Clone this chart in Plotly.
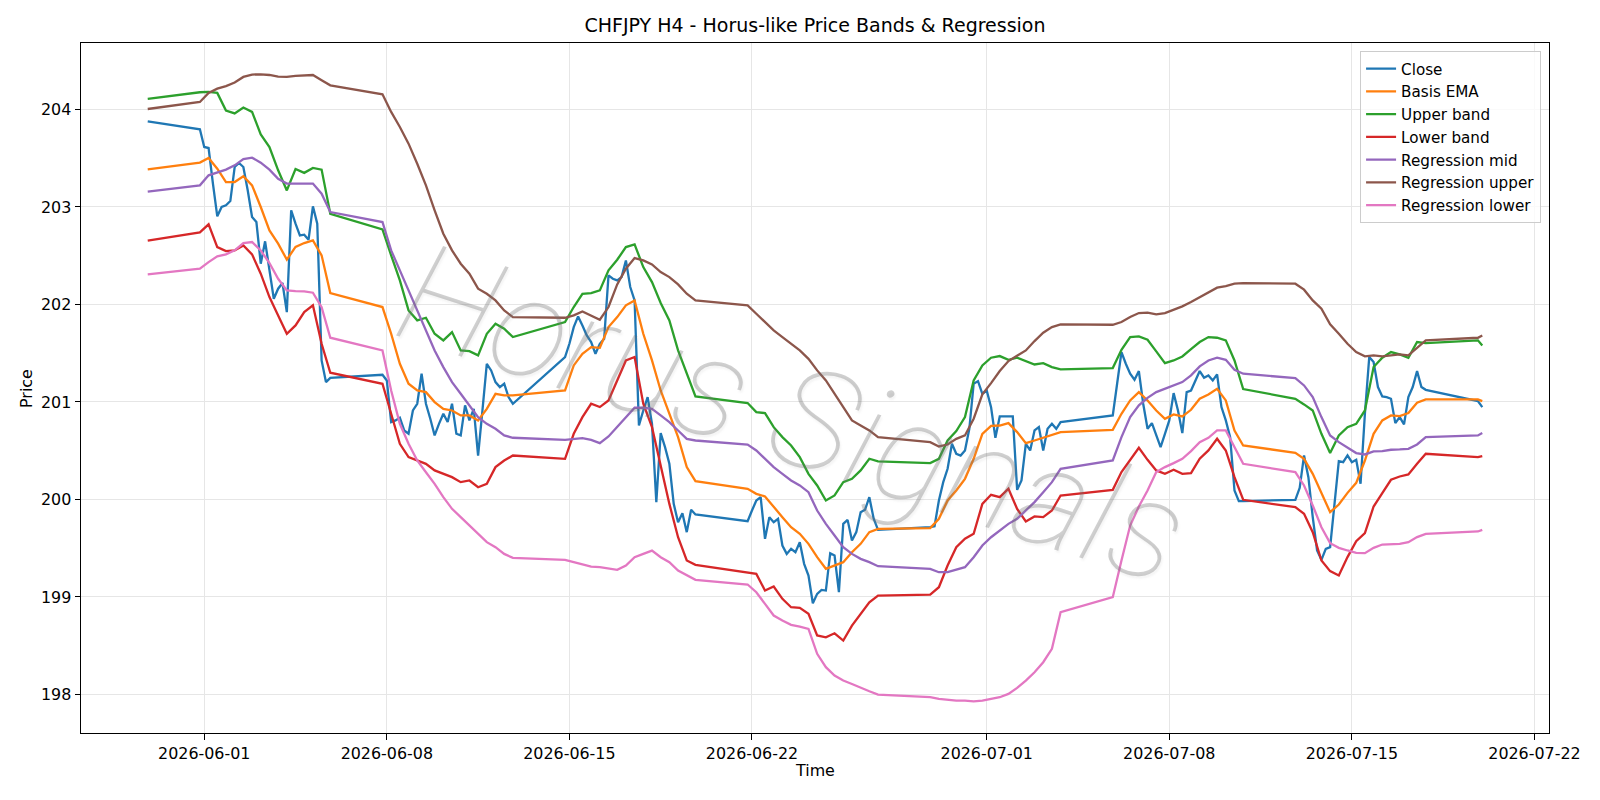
import pandas as pd
import plotly.graph_objects as go

# ---------------- time grids (H4 bars, weekend gaps) ----------------
def bar_times(step_hours):
    ts = [pd.Timestamp("2026-05-29 20:00")]
    for k in range(7):
        start = pd.Timestamp("2026-05-31 20:00") + pd.Timedelta(days=7 * k)
        n = 120 // step_hours + 1
        ts += [start + pd.Timedelta(hours=step_hours * i) for i in range(n)]
    ts += [pd.Timestamp("2026-07-19 20:00"), pd.Timestamp("2026-07-20 00:00")]
    return ts

t_close = bar_times(4)
t_band = bar_times(8)

# ---------------- series values ----------------
close = [
    203.879,
    203.797, 203.616, 203.605, 203.239, 202.904, 203.0, 203.017, 203.061, 203.41, 203.451, 203.41,
    203.171, 202.897, 202.846, 202.418, 202.648, 202.35, 202.059, 202.162, 202.22, 201.922, 202.966,
    202.829, 202.709, 202.716, 202.665, 203.007, 202.829, 201.426, 201.204, 201.248,
    201.279, 201.221, 200.794, 200.811, 200.838, 200.708, 200.674, 200.913, 200.982, 201.29, 200.982,
    200.828, 200.657, 200.776, 200.879, 200.794, 200.982, 200.674, 200.657, 200.965, 200.811, 200.93,
    200.451, 200.913, 201.392, 201.324, 201.204, 201.153, 201.187, 201.05, 200.982,
    201.46, 201.597, 201.768, 201.878, 201.785, 201.683, 201.614, 201.495, 201.597, 201.649, 202.298,
    202.264, 202.247, 202.281, 202.452, 202.179, 202.042, 200.76, 200.913, 201.05, 200.776, 199.972,
    200.681, 200.537, 200.366, 199.955, 199.767, 199.86, 199.665, 199.894, 199.846,
    199.778, 199.887, 199.99, 200.024, 199.596, 199.819, 199.767, 199.802, 199.528, 199.442, 199.494,
    199.459, 199.562, 199.34, 199.22, 198.936, 199.032, 199.073, 199.066, 199.449, 199.425, 199.049,
    199.75, 199.791, 199.579, 199.665, 199.87, 199.894, 200.024, 199.802, 199.689,
    199.716, 199.726, 199.99, 200.178, 200.315, 200.571, 200.469, 200.451, 200.503, 200.725, 201.187,
    201.214, 201.084, 201.118, 200.947, 200.633, 200.852, 200.852, 200.852, 200.852, 200.099, 200.195,
    200.571, 200.503, 200.708, 200.742, 200.503, 200.725, 200.777, 200.725, 200.794,
    200.862, 201.187, 201.512, 201.392, 201.29, 201.228, 201.317, 200.982, 200.725, 200.783, 200.657,
    200.537, 200.674, 200.811, 201.091, 200.913, 200.681, 201.101, 201.118, 201.214, 201.317, 201.249,
    201.272, 201.221, 201.283, 200.948, 200.811, 200.64, 200.092, 199.983, 199.983,
    199.997, 200.12, 200.452, 200.229, 199.819, 199.477, 199.381, 199.494, 199.511, 199.921, 200.393,
    200.383, 200.452, 200.383, 200.407, 200.161, 200.879, 201.461, 201.409, 201.153, 201.057, 201.05,
    201.033, 200.783, 200.845, 200.77, 201.05, 201.153, 201.317, 201.153, 201.125,
    201.009, 200.948,
]

basis_ema = [
    203.386,
    203.455, 203.503, 203.393, 203.256, 203.256, 203.315, 203.222, 203.0, 202.76, 202.624, 202.46, 202.59, 202.63, 202.658, 202.504, 202.117,
    201.974, 201.70, 201.392, 201.187, 201.118, 201.101, 200.999, 200.93, 200.913, 200.862, 200.862, 200.811, 200.93, 201.084, 201.067, 201.067,
    201.118, 201.375, 201.495, 201.563, 201.556, 201.768, 201.871, 201.991, 202.042, 201.70, 201.426, 201.118, 200.879, 200.64, 200.332, 200.188,
    200.109, 200.058, 200.031, 199.921, 199.819, 199.716, 199.648, 199.545, 199.408, 199.289, 199.319, 199.357, 199.459, 199.545, 199.665, 199.699,
    199.706, 199.802, 199.99, 200.092, 200.212, 200.417, 200.674, 200.756, 200.759, 200.783, 200.691, 200.578, 200.605, 200.633, 200.657, 200.691,
    200.715, 200.879, 201.016, 201.101, 201.016, 200.913, 200.828, 200.872, 200.852, 200.92, 201.033, 201.077, 201.136, 201.016, 200.708, 200.554,
    200.479, 200.417, 200.263, 200.058, 199.87, 199.948, 200.068, 200.171, 200.4, 200.674, 200.811, 200.862, 200.855, 200.886, 200.992, 201.026,
    201.026, 201.009,
]

upper_band = [
    204.11,
    204.177, 204.18, 204.17, 203.99, 203.96, 204.02, 203.975, 203.745, 203.615, 203.376, 203.17, 203.39, 203.35, 203.40, 203.383, 202.93,
    202.771, 202.504, 202.247, 201.939, 201.837, 201.864, 201.70, 201.632, 201.717, 201.529, 201.522, 201.478, 201.70, 201.803, 201.751, 201.666,
    201.82, 201.974, 202.11, 202.117, 202.145, 202.35, 202.459, 202.589, 202.617, 202.384, 202.23, 202.015, 201.837, 201.53, 201.29, 201.057,
    200.989, 200.896, 200.886, 200.742, 200.64, 200.554, 200.434, 200.263, 200.144, 199.99, 200.041, 200.178, 200.212, 200.298, 200.418, 200.39,
    200.373, 200.417, 200.606, 200.701, 200.845, 201.221, 201.375, 201.454, 201.471, 201.433, 201.454, 201.416, 201.385, 201.399, 201.358, 201.334,
    201.348, 201.536, 201.666, 201.673, 201.639, 201.519, 201.399, 201.426, 201.467, 201.543, 201.615, 201.666, 201.659, 201.632, 201.426, 201.132,
    201.033, 200.975, 200.913, 200.674, 200.476, 200.657, 200.742, 200.776, 200.913, 201.358, 201.454, 201.512, 201.488, 201.454, 201.615, 201.604,
    201.632, 201.58,
]

lower_band = [
    202.654,
    202.74, 202.822, 202.589, 202.548, 202.555, 202.606, 202.514, 202.316, 202.076, 201.888, 201.70, 201.785, 201.922, 201.991, 201.597, 201.30,
    201.187, 200.879, 200.571, 200.434, 200.40, 200.366, 200.298, 200.263, 200.229, 200.178, 200.195, 200.126, 200.161, 200.332, 200.40, 200.451,
    200.417, 200.674, 200.845, 200.982, 200.948, 201.016, 201.221, 201.426, 201.461, 200.982, 200.742, 200.332, 199.955, 199.613, 199.374, 199.33,
    199.244, 199.237, 199.066, 199.107, 198.981, 198.895, 198.888, 198.827, 198.605, 198.587, 198.628, 198.553, 198.707, 198.827, 198.946, 199.015,
    199.025, 199.1, 199.323, 199.511, 199.597, 199.648, 199.955, 200.048, 200.024, 200.11, 199.904, 199.774, 199.826, 199.819, 199.887, 200.041,
    200.099, 200.281, 200.4, 200.53, 200.407, 200.298, 200.263, 200.305, 200.263, 200.27, 200.418, 200.503, 200.623, 200.503, 200.229, 199.997,
    199.921, 199.853, 199.665, 199.374, 199.265, 199.22, 199.409, 199.572, 199.654, 199.928, 200.065, 200.202, 200.236, 200.257, 200.366, 200.469,
    200.435, 200.445,
]

regression_mid = [
    203.157,
    203.222, 203.325, 203.352, 203.383, 203.427, 203.492, 203.506, 203.455, 203.383, 203.29, 203.24, 203.24, 203.24, 203.24, 203.137, 202.948,
    202.846, 202.555, 202.35, 202.145, 201.939, 201.734, 201.529, 201.358, 201.204, 201.084, 200.965, 200.845, 200.776, 200.725, 200.657, 200.633,
    200.612, 200.619, 200.63, 200.612, 200.578, 200.646, 200.742, 200.845, 200.941, 200.941, 200.93, 200.862, 200.793, 200.708, 200.622, 200.605,
    200.564, 200.503, 200.418, 200.332, 200.263, 200.195, 200.144, 200.075, 199.887, 199.75, 199.631, 199.511, 199.442, 199.391, 199.357, 199.316,
    199.289, 199.254, 199.254, 199.278, 199.306, 199.408, 199.528, 199.613, 199.682, 199.75, 199.802, 199.887, 199.973, 200.075, 200.178, 200.315,
    200.4, 200.64, 200.845, 200.965, 201.043, 201.101, 201.136, 201.17, 201.204, 201.273, 201.365, 201.426, 201.454, 201.433, 201.331, 201.29,
    201.245, 201.17, 201.05, 200.845, 200.657, 200.588, 200.53, 200.476, 200.462, 200.493, 200.496, 200.51, 200.513, 200.52, 200.564, 200.64,
    200.657, 200.681,
]

regression_upper = [
    204.005,
    204.077, 204.17, 204.214, 204.24, 204.276, 204.334, 204.358, 204.361, 204.354, 204.337, 204.334, 204.344, 204.347, 204.354, 204.30, 204.248,
    204.156, 203.975, 203.821, 203.65, 203.444, 203.222, 202.966, 202.726, 202.555, 202.418, 202.315, 202.162, 202.11, 202.042, 201.939, 201.871,
    201.864, 201.888, 201.929, 201.888, 201.844, 201.974, 202.206, 202.367, 202.476, 202.452, 202.411, 202.333, 202.281, 202.206, 202.11, 202.042,
    201.991, 201.905, 201.82, 201.734, 201.666, 201.597, 201.529, 201.443, 201.324, 201.221, 201.084, 200.947, 200.811, 200.759, 200.708, 200.64,
    200.588, 200.544, 200.564, 200.622, 200.657, 200.828, 201.078, 201.194, 201.317, 201.42, 201.478, 201.529, 201.625, 201.71, 201.768, 201.796,
    201.792, 201.82, 201.871, 201.912, 201.916, 201.898, 201.912, 201.946, 201.981, 202.025, 202.076, 202.128, 202.172, 202.189, 202.213, 202.22,
    202.213, 202.152, 202.042, 201.957, 201.796, 201.7, 201.597, 201.512, 201.468, 201.478, 201.468, 201.478, 201.488, 201.478, 201.556, 201.632,
    201.659, 201.683,
]

regression_lower = [
    202.309,
    202.367, 202.435, 202.494, 202.514, 202.555, 202.63, 202.641, 202.555, 202.425, 202.264, 202.145, 202.138, 202.134, 202.121, 201.973, 201.659,
    201.529, 201.118, 200.776, 200.571, 200.40, 200.28, 200.161, 200.024, 199.904, 199.819, 199.733, 199.648, 199.562, 199.511, 199.442, 199.401,
    199.381, 199.357, 199.333, 199.312, 199.306, 199.289, 199.278, 199.323, 199.408, 199.442, 199.476, 199.408, 199.357, 199.272, 199.22, 199.176,
    199.128, 199.049, 198.929, 198.81, 198.758, 198.714, 198.697, 198.673, 198.417, 198.28, 198.194, 198.143, 198.108, 198.067, 198.033, 197.999,
    197.972, 197.955, 197.944, 197.937, 197.937, 197.93, 197.937, 197.955, 197.972, 198.006, 198.068, 198.143, 198.228, 198.331, 198.468, 198.844,
    198.998, 199.374, 199.733, 199.928, 200.092, 200.281, 200.332, 200.373, 200.417, 200.496, 200.588, 200.633, 200.708, 200.708, 200.53, 200.366,
    200.281, 200.144, 199.939, 199.716, 199.552, 199.504, 199.477, 199.453, 199.45, 199.504, 199.538, 199.545, 199.545, 199.562, 199.614, 199.648,
    199.672, 199.689,
]

x_tick_vals = ["2026-06-01", "2026-06-08", "2026-06-15", "2026-06-22",
               "2026-07-01", "2026-07-08", "2026-07-15", "2026-07-22"]
y_tick_vals = [198, 199, 200, 201, 202, 203, 204]

series = [
    ("Close", t_close, close, "#1f77b4"),
    ("Basis EMA", t_band, basis_ema, "#ff7f0e"),
    ("Upper band", t_band, upper_band, "#2ca02c"),
    ("Lower band", t_band, lower_band, "#d62728"),
    ("Regression mid", t_band, regression_mid, "#9467bd"),
    ("Regression upper", t_band, regression_upper, "#8c564b"),
    ("Regression lower", t_band, regression_lower, "#e377c2"),
]

FONT = "DejaVu Sans"
FS = 15.9
fig = go.Figure()
for name, tx, vals, col in series:
    fig.add_trace(go.Scatter(x=tx, y=vals, mode="lines", name=name,
                             line=dict(color=col, width=2.3)))

axis_common = dict(showline=True, mirror=True, linecolor="black", linewidth=1,
                   ticks="outside", ticklen=5.5, tickwidth=1, tickcolor="black",
                   showgrid=True, gridcolor="#e6e6e6", gridwidth=1, zeroline=False,
                   tickfont=dict(family=FONT, size=FS, color="black"))

fig.update_layout(
    width=1600, height=800,
    margin=dict(l=81, r=51, t=43, b=67),
    paper_bgcolor="white", plot_bgcolor="white",
    font=dict(family=FONT, size=FS, color="black"),
    title=dict(text="CHFJPY H4 - Horus-like Price Bands & Regression",
               x=0.5, xref="paper", xanchor="center",
               y=1 - 25.5 / 800, yref="container", yanchor="middle",
               font=dict(family=FONT, size=19, color="black")),
    xaxis=dict(range=["2026-05-27 06:36", "2026-07-22 13:24"],
               tickvals=x_tick_vals, ticktext=x_tick_vals, **axis_common),
    yaxis=dict(range=[197.605, 204.682], tickvals=y_tick_vals,
               ticktext=[str(v) for v in y_tick_vals], **axis_common),
    legend=dict(x=0.9946, xanchor="right", y=0.988, yanchor="top",
                bgcolor="rgba(255,255,255,0.8)", bordercolor="#cccccc", borderwidth=1,
                tracegroupgap=0, itemwidth=30,
                font=dict(family=FONT, size=15.2, color="black")),
    showlegend=True,
)

fig.add_annotation(text="Time", x=0.5, xref="paper", y=-0.054, yref="paper",
                   showarrow=False, yanchor="middle",
                   font=dict(family=FONT, size=FS, color="black"))
fig.add_annotation(text="Price", x=-0.0375, xref="paper", y=0.5, yref="paper",
                   showarrow=False, textangle=-90, xanchor="center",
                   font=dict(family=FONT, size=FS, color="black"))

# watermark
fig.add_annotation(text="Horus Signals", x=0.485, xref="paper", y=0.462, yref="paper",
                   showarrow=False, textangle=18, xanchor="center", yanchor="middle",
                   font=dict(family="DejaVu Sans ExtraLight, Roboto, Lato", size=140,
                             color="rgba(110,110,110,0.32)", style="italic", weight=100,
                             shadow="2px 2px 2px rgba(160,160,160,0.35)"))

fig.write_html("out.html")
